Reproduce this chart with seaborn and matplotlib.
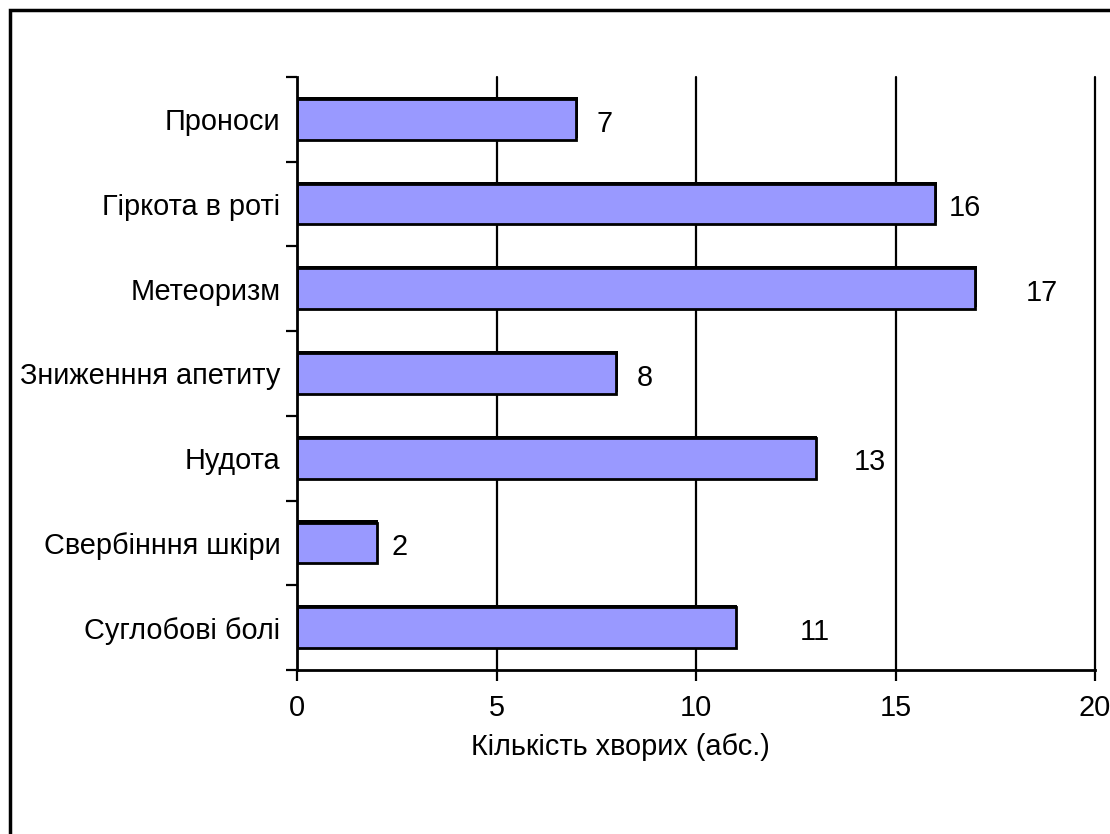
import matplotlib
matplotlib.use("Agg")
import matplotlib.pyplot as plt
import matplotlib.patheffects as pe
from matplotlib.patches import Rectangle
from matplotlib.ticker import FixedLocator, NullFormatter
import seaborn as sns
import pandas as pd

symptoms = ["Проноси", "Гіркота в роті", "Метеоризм", "Зниженння апетиту",
            "Нудота", "Свербінння шкіри", "Суглобові болі"]
patients = [7, 16, 17, 8, 13, 2, 11]
# horizontal gap between bar end and its value label (data units)
label_gap = [0.72, 0.74, 1.67, 0.72, 1.36, 0.58, 1.98]

x_ticks = [0, 5, 10, 15, 20]
x_label = "Кількість хворих (абс.)"

FS = 20.8

sns.set_theme(style="ticks", rc={"text.color": "black", "axes.labelcolor": "black",
                                 "xtick.color": "black", "ytick.color": "black"})
plt.rcParams["font.family"] = ["Liberation Sans", "DejaVu Sans"]

df = pd.DataFrame({"symptom": symptoms, "n": patients})

fig = plt.figure(figsize=(11.1, 8.34), dpi=100)
ax = fig.add_axes([0.2676, 0.1967, 0.7189, 0.711])

for x in x_ticks[1:]:
    ax.axvline(x, color="black", lw=1.6, zorder=0, clip_on=False)

sns.barplot(data=df, x="n", y="symptom", orient="h", color="#9999FF",
            saturation=1, edgecolor="black", linewidth=2, width=0.48,
            ax=ax, zorder=2)
for p in ax.patches:
    p.set_path_effects([pe.SimplePatchShadow(offset=(1, 1.5), shadow_rgbFace="black", alpha=1),
                        pe.Normal()])

for i, (v, g) in enumerate(zip(patients, label_gap)):
    ax.text(v + g, i + 0.05, str(v), ha="center", va="center",
            fontsize=FS, color="black")

ax.set_xlim(0, 20)
ax.set_ylim(6.5, -0.5)
ax.set_xticks(x_ticks)
ax.set_xticklabels([str(t) for t in x_ticks], fontsize=FS)
ax.tick_params(axis="x", direction="out", length=8, width=1.6, color="black", pad=9)
ax.tick_params(axis="y", which="major", length=0, pad=12, labelsize=FS)
ax.yaxis.set_minor_locator(FixedLocator([k - 0.5 for k in range(len(symptoms) + 1)]))
ax.yaxis.set_minor_formatter(NullFormatter())
ax.tick_params(axis="y", which="minor", direction="out", length=8, width=1.6, color="black")
ax.set_xlabel("")
ax.set_ylabel("")

for s in ["top", "right"]:
    ax.spines[s].set_visible(False)
for s in ["left", "bottom"]:
    ax.spines[s].set_color("black")
    ax.spines[s].set_linewidth(2)

fig.text(620 / 1110, 1 - 747 / 834, x_label, ha="center", va="center", fontsize=FS)

fig.patches.append(Rectangle((10 / 1110, -0.1), 1.2, 1.1 - 10 / 834,
                             transform=fig.transFigure, fill=False,
                             edgecolor="black", linewidth=2.5))

fig.savefig("out.png", dpi=100, facecolor="white")
